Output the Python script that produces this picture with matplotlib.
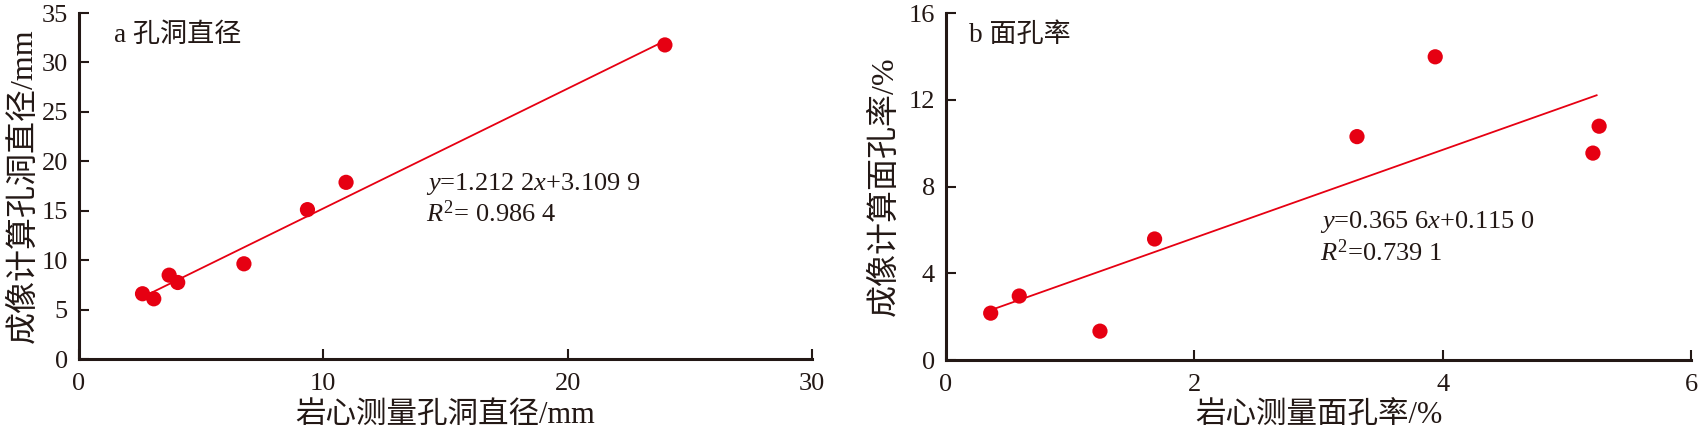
import numpy as np
import matplotlib.pyplot as plt

plt.rcParams['font.family'] = ['Liberation Serif', 'Noto Sans CJK SC']
plt.rcParams['mathtext.fontset'] = 'custom'
plt.rcParams['mathtext.rm'] = 'Liberation Serif'
plt.rcParams['mathtext.it'] = 'Liberation Serif:italic'

# a: pore diameter (mm)
core_d = [2.6, 3.06, 3.69, 4.04, 6.75, 9.35, 10.93, 23.98]
img_d = [6.6, 6.09, 8.48, 7.74, 9.63, 15.11, 17.87, 31.77]
fit_a = [1.2122, 3.1099]
fit_a_x = [2.95, 23.8]

# b: areal porosity (%)
core_p = [0.36, 0.59, 1.24, 1.68, 3.31, 3.94, 5.21, 5.26]
img_p = [2.16, 2.95, 1.33, 5.58, 10.30, 13.98, 9.54, 10.78]
fit_b = [2.03, 1.57]          # line as drawn in the figure
fit_b_x = [0.36, 5.24]

red = '#e60012'
dark = '#231815'

fig = plt.figure(figsize=(17.01, 4.36), dpi=100)
ax1 = fig.add_axes([79/1701, 1-359/436, (812-79)/1701, 346/436])
ax2 = fig.add_axes([946/1701, 1-360/436, (1691-946)/1701, 347/436])


def style(ax):
    for s in ['top', 'right']:
        ax.spines[s].set_visible(False)
    for s in ['left', 'bottom']:
        ax.spines[s].set_linewidth(2.2)
        ax.spines[s].set_color(dark)
    ax.tick_params(direction='in', length=7, width=1.5, color=dark,
                   labelsize=19, labelcolor=dark)
    ax.tick_params(axis='x', pad=10)
    ax.tick_params(axis='y', pad=8)


def draw(ax, x, y, fit, fx):
    fx = np.array(fx)
    ax.plot(fx, fit[0]*fx+fit[1], '-', color=red, lw=1.3, zorder=2)
    ax.scatter(x, y, s=120, color=red, edgecolors='none', zorder=3, clip_on=False)


draw(ax1, core_d, img_d, fit_a, fit_a_x)
draw(ax2, core_p, img_p, fit_b, fit_b_x)
style(ax1)
style(ax2)

ax1.set_xlim(0, 30)
ax1.set_ylim(0, 35)
ax1.set_xticks([0, 10, 20, 30])
ax1.set_yticks(range(0, 36, 5))
ax2.set_xlim(0, 6)
ax2.set_ylim(0, 16)
ax2.set_xticks([0, 2, 4, 6])
ax2.set_yticks([0, 4, 8, 12, 16])

ax1.set_xlabel('岩心测量孔洞直径/mm', fontsize=22, color=dark, labelpad=4)
ax1.set_ylabel('成像计算孔洞直径/mm', fontsize=23, color=dark, labelpad=2)
ax2.set_xlabel('岩心测量面孔率/%', fontsize=22, color=dark, labelpad=4)
ax2.set_ylabel('成像计算面孔率/%', fontsize=23, color=dark, labelpad=6)

ax1.text(0.048, 0.936, 'a 孔洞直径', transform=ax1.transAxes, fontsize=19.5,
         color=dark, va='center')
ax2.text(0.031, 0.936, 'b 面孔率', transform=ax2.transAxes, fontsize=19.5,
         color=dark, va='center')

ax1.text(14.2, 17.7, r'$y$=1.212 2$x$+3.109 9', fontsize=19, color=dark, va='center')
ax1.text(14.2, 14.7, r'$R^2$= 0.986 4', fontsize=19, color=dark, va='center')
ax2.text(3.01, 6.36, r'$y$=0.365 6$x$+0.115 0', fontsize=19, color=dark, va='center')
ax2.text(3.01, 4.93, r'$R^2$=0.739 1', fontsize=19, color=dark, va='center')

fig.savefig('out.png', dpi=100)
